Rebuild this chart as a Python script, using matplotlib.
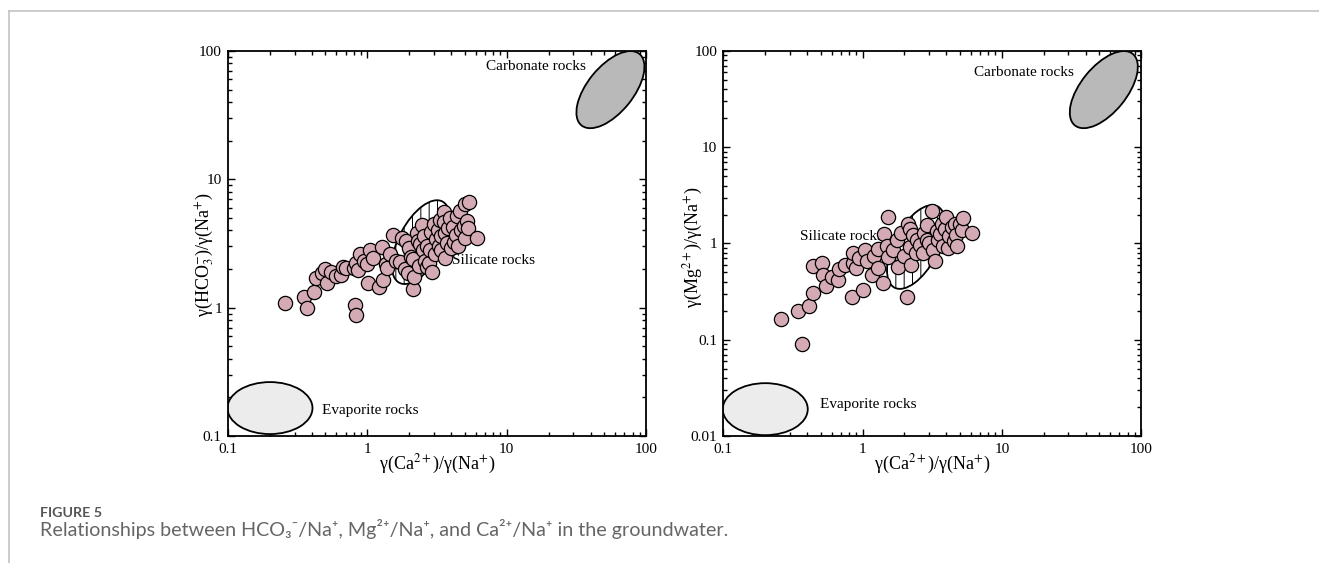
import matplotlib
matplotlib.use("Agg")
import matplotlib.pyplot as plt
import matplotlib.ticker as ticker
from matplotlib.patches import Ellipse
from matplotlib.lines import Line2D
from matplotlib.transforms import ScaledTranslation

plt.rcParams['font.family'] = ['Liberation Serif', 'DejaVu Serif']
plt.rcParams['mathtext.fontset'] = 'stix'
plt.rcParams['hatch.linewidth'] = 0.7

# left panel: Ca/Na vs HCO3/Na
ca_na_left = [0.257, 0.35, 0.366, 0.413, 0.43, 0.47, 0.50, 0.515, 0.55, 0.60,
              0.645, 0.67, 0.70, 0.80, 0.83, 0.85, 0.885, 0.815, 0.83, 0.95,
              1.0, 1.01, 1.04, 1.1, 1.21, 1.3, 1.28, 1.37, 1.39, 1.45,
              1.53, 1.6, 1.71, 1.77, 1.85, 1.95, 1.9, 2.0, 2.05, 2.14,
              2.14, 2.17, 2.26, 2.3, 2.35, 2.4, 2.45, 2.5, 2.55, 2.6,
              2.67, 2.7, 2.78, 2.8, 2.85, 2.9, 3.0, 3.05, 3.1, 3.2,
              3.25, 3.3, 3.35, 3.4, 3.52, 3.52, 3.6, 3.6, 3.7, 3.8,
              3.9, 4.0, 4.14, 4.2, 4.3, 4.4, 4.5, 4.6, 4.7, 4.9,
              5.0, 5.0, 5.2, 5.4, 5.3, 6.1]
hco3_na = [1.08, 1.2, 1.0, 1.32, 1.69, 1.85, 1.99, 1.55, 1.88, 1.78,
           1.79, 2.08, 2.05, 2.05, 2.24, 1.97, 2.61, 1.05, 0.87, 2.3,
           2.2, 1.57, 2.8, 2.45, 1.46, 1.64, 2.98, 2.2, 2.04, 2.6,
           3.67, 2.3, 2.28, 3.52, 2.0, 1.85, 3.3, 2.9, 2.5, 2.39,
           1.41, 1.74, 3.79, 3.3, 2.1, 3.13, 4.39, 2.8, 3.6, 2.3,
           2.07, 3.0, 2.24, 2.8, 3.9, 1.9, 4.5, 2.6, 3.4, 4.0,
           3.0, 4.8, 2.8, 3.6, 5.58, 4.67, 3.8, 2.43, 3.2, 4.2,
           5.0, 2.9, 4.27, 3.25, 3.7, 5.2, 3.0, 5.7, 4.0, 4.3,
           6.45, 3.5, 4.7, 6.6, 4.2, 3.5]

# right panel: Ca/Na vs Mg/Na
ca_na_right = [0.26, 0.366, 0.346, 0.41, 0.44, 0.44, 0.51, 0.52, 0.55, 0.60,
               0.67, 0.68, 0.75, 0.835, 0.85, 0.86, 0.90, 0.95, 1.0, 1.04,
               1.07, 1.16, 1.2, 1.29, 1.3, 1.41, 1.42, 1.5, 1.53, 1.53,
               1.65, 1.76, 1.8, 1.9, 2.0, 2.07, 2.13, 2.18, 2.2, 2.23,
               2.3, 2.4, 2.45, 2.6, 2.7, 2.75, 2.88, 2.9, 3.0, 3.13,
               3.2, 3.3, 3.4, 3.5, 3.6, 3.7, 3.8, 3.9, 4.0, 4.1,
               4.2, 4.4, 4.5, 4.6, 4.7, 4.8, 5.0, 5.15, 5.3, 6.08]
mg_na = [0.166, 0.09, 0.2, 0.224, 0.303, 0.58, 0.62, 0.47, 0.363, 0.45,
         0.42, 0.54, 0.6, 0.28, 0.62, 0.79, 0.55, 0.7, 0.33, 0.85,
         0.66, 0.47, 0.75, 0.87, 0.55, 0.39, 1.27, 0.95, 1.89, 0.72,
         0.85, 1.08, 0.57, 1.3, 0.75, 0.28, 1.61, 0.92, 1.4, 0.6,
         1.22, 0.8, 1.1, 0.97, 0.79, 1.3, 1.55, 1.1, 1.0, 2.18,
         0.85, 0.66, 1.34, 1.1, 1.27, 1.6, 0.95, 1.4, 1.89, 0.89,
         1.2, 1.49, 1.05, 1.6, 1.22, 0.95, 1.6, 1.37, 1.82, 1.3]

# rock-type end-member fields: (centre x, centre y), size in inches, angle
fields_left = {
    'Carbonate': ((55.5, 50.0), 0.92, 0.46, 51),
    'Silicate': ((2.42, 3.24), 0.92, 0.44, 62),
    'Evaporite': ((0.2, 0.165), 0.85, 0.52, 0),
}
fields_right = {
    'Carbonate': ((54.0, 39.7), 0.92, 0.46, 51),
    'Silicate': ((2.42, 0.92), 0.92, 0.44, 62),
    'Evaporite': ((0.2, 0.019), 0.85, 0.52, 0),
}
field_style = {
    'Carbonate': dict(facecolor='#b9b9b9', edgecolor='black', hatch=None),
    'Silicate': dict(facecolor='white', edgecolor='black', hatch='||'),
    'Evaporite': dict(facecolor='#ececec', edgecolor='black', hatch=None),
}
labels_left = {
    'Carbonate rocks': ((37.0, 76.0), 'right'),
    'Silicate rocks': ((4.04, 2.32), 'left'),
    'Evaporite rocks': ((0.469, 0.157), 'left'),
}
labels_right = {
    'Carbonate rocks': ((32.7, 59.6), 'right'),
    'Silicate rocks': ((0.355, 1.17), 'left'),
    'Evaporite rocks': ((0.494, 0.021), 'left'),
}

point_color = '#d4aab4'

fig = plt.figure(figsize=(13.19, 5.63), dpi=100)
ax1 = fig.add_axes([0.1729, 0.2256, 0.3169, 0.6838])
ax2 = fig.add_axes([0.5484, 0.2256, 0.3167, 0.6838])


def draw_panel(ax, x, y, ylim, fields, labels, ylabel, ylabel_xy):
    ax.set_xscale('log')
    ax.set_yscale('log')
    ax.set_xlim(0.1, 100)
    ax.set_ylim(*ylim)
    for name, (c, w, h, ang) in fields.items():
        st = field_style[name]
        tr = fig.dpi_scale_trans + ScaledTranslation(c[0], c[1], ax.transData)
        e = Ellipse((0, 0), w, h, angle=ang, transform=tr,
                    facecolor=st['facecolor'], edgecolor=st['edgecolor'],
                    hatch=st['hatch'], linewidth=1.3, zorder=2)
        ax.add_patch(e)
    for txt, (pos, ha) in labels.items():
        ax.text(pos[0], pos[1], txt, ha=ha, va='center', fontsize=11, zorder=3)
    ax.scatter(x, y, s=105, c=point_color, edgecolors='black',
               linewidths=0.9, zorder=4)
    fmt = ticker.FuncFormatter(lambda v, p: f'{v:g}')
    ax.xaxis.set_major_formatter(fmt)
    ax.yaxis.set_major_formatter(fmt)
    ax.xaxis.set_minor_formatter(ticker.NullFormatter())
    ax.yaxis.set_minor_formatter(ticker.NullFormatter())
    ax.tick_params(which='both', direction='in', top=True, right=True,
                   labelsize=11, width=1.0)
    ax.tick_params(axis='x', which='both', pad=5)
    ax.tick_params(axis='y', which='both', pad=4.5)
    ax.tick_params(which='major', length=5)
    ax.tick_params(which='minor', length=3)
    for sp in ax.spines.values():
        sp.set_linewidth(1.3)
    ax.set_xlabel('γ(Ca$^{2+}$)/γ(Na$^{+}$)', fontsize=13, labelpad=-2)
    ax.set_ylabel(ylabel, fontsize=13)
    ax.yaxis.set_label_coords(*ylabel_xy)


draw_panel(ax1, ca_na_left, hco3_na, (0.1, 100), fields_left, labels_left,
           'γ(HCO$_3^{-}$)/γ(Na$^{+}$)', (-0.028, 0.47))
draw_panel(ax2, ca_na_right, mg_na, (0.01, 100), fields_right, labels_right,
           'γ(Mg$^{2+}$)/γ(Na$^{+}$)', (-0.045, 0.49))

# page frame lines
fx = 9 / 1319
fy = 1 - 11 / 563
fig.add_artist(Line2D([fx, 1], [fy, fy], color='#c4c4c4', lw=1.2,
                      transform=fig.transFigure))
fig.add_artist(Line2D([fx, fx], [0, fy], color='#c4c4c4', lw=1.2,
                      transform=fig.transFigure))

# caption
fig.text(40 / 1319, 1 - 517 / 563, 'FIGURE 5', family=['Lato', 'DejaVu Sans'],
         fontsize=10.3, fontweight='bold', color='#555555', va='baseline')
fig.text(40 / 1319, 1 - 536 / 563,
         'Relationships between HCO₃⁻/Na⁺, Mg²⁺/Na⁺, and Ca²⁺/Na⁺ in the groundwater.',
         family=['Lato', 'DejaVu Sans'], fontsize=14.2, color='#666666',
         va='baseline')

fig.savefig('out.png', dpi=100)
